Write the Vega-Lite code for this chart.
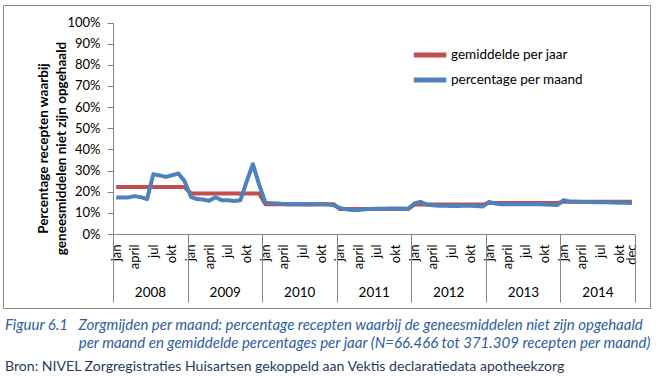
{
  "$schema": "https://vega.github.io/schema/vega-lite/v6.json",
  "width": 647,
  "height": 303,
  "padding": {"left": 3, "top": 5, "right": 0, "bottom": 0},
  "autosize": {"type": "pad"},
  "background": "white",
  "config": {
    "font": "Lato",
    "view": {"stroke": "#888888", "strokeWidth": 1},
    "axis": {"grid": false, "labelFont": "Lato", "labelFontSize": 13, "labelColor": "black", "domainColor": "#868686", "tickColor": "#868686", "labelOverlap": false, "labelFlush": false}
  },
  "title": {
    "text": [
      "Figuur 6.1\u00a0\u00a0\u00a0Zorgmijden per maand: percentage recepten waarbij de geneesmiddelen niet zijn opgehaald",
      "\u200b\u00a0\u00a0\u00a0\u00a0\u00a0\u00a0\u00a0\u00a0\u00a0\u00a0\u00a0\u00a0\u00a0\u00a0\u00a0\u00a0\u00a0\u00a0\u00a0\u00a0\u00a0per maand en gemiddelde percentages per jaar (N=66.466 tot 371.309 recepten per maand)"
    ],
    "subtitle": "Bron: NIVEL Zorgregistraties Huisartsen gekoppeld aan Vektis declaratiedata apotheekzorg",
    "orient": "bottom",
    "anchor": "start",
    "frame": "group",
    "offset": 10,
    "dx": 2,
    "font": "Lato",
    "fontSize": 15,
    "fontStyle": "italic",
    "fontWeight": "normal",
    "color": "#2F5D9F",
    "lineHeight": 17.5,
    "subtitleFont": "Lato",
    "subtitleFontSize": 14.1,
    "subtitleFontStyle": "normal",
    "subtitleColor": "#1F3D5C",
    "subtitlePadding": 9
  },
  "data": {
    "values": [
      {"maand": "2008-01", "gemiddelde per jaar": 22.2, "percentage per maand": 17.3},
      {"maand": "2008-02", "gemiddelde per jaar": 22.2, "percentage per maand": 17.2},
      {"maand": "2008-03", "gemiddelde per jaar": 22.2, "percentage per maand": 17.3},
      {"maand": "2008-04", "gemiddelde per jaar": 22.2, "percentage per maand": 17.9},
      {"maand": "2008-05", "gemiddelde per jaar": 22.2, "percentage per maand": 17.4},
      {"maand": "2008-06", "gemiddelde per jaar": 22.2, "percentage per maand": 16.5},
      {"maand": "2008-07", "gemiddelde per jaar": 22.2, "percentage per maand": 28.3},
      {"maand": "2008-08", "gemiddelde per jaar": 22.2, "percentage per maand": 27.7},
      {"maand": "2008-09", "gemiddelde per jaar": 22.2, "percentage per maand": 27.0},
      {"maand": "2008-10", "gemiddelde per jaar": 22.2, "percentage per maand": 27.8},
      {"maand": "2008-11", "gemiddelde per jaar": 22.2, "percentage per maand": 28.6},
      {"maand": "2008-12", "gemiddelde per jaar": 22.2, "percentage per maand": 25.0},
      {"maand": "2009-01", "gemiddelde per jaar": 19.2, "percentage per maand": 17.6},
      {"maand": "2009-02", "gemiddelde per jaar": 19.2, "percentage per maand": 16.5},
      {"maand": "2009-03", "gemiddelde per jaar": 19.2, "percentage per maand": 16.3},
      {"maand": "2009-04", "gemiddelde per jaar": 19.2, "percentage per maand": 15.7},
      {"maand": "2009-05", "gemiddelde per jaar": 19.2, "percentage per maand": 17.4},
      {"maand": "2009-06", "gemiddelde per jaar": 19.2, "percentage per maand": 16.0},
      {"maand": "2009-07", "gemiddelde per jaar": 19.2, "percentage per maand": 16.0},
      {"maand": "2009-08", "gemiddelde per jaar": 19.2, "percentage per maand": 15.6},
      {"maand": "2009-09", "gemiddelde per jaar": 19.2, "percentage per maand": 16.0},
      {"maand": "2009-10", "gemiddelde per jaar": 19.2, "percentage per maand": 24.8},
      {"maand": "2009-11", "gemiddelde per jaar": 19.2, "percentage per maand": 33.0},
      {"maand": "2009-12", "gemiddelde per jaar": 19.2, "percentage per maand": 23.5},
      {"maand": "2010-01", "gemiddelde per jaar": 14.1, "percentage per maand": 14.8},
      {"maand": "2010-02", "gemiddelde per jaar": 14.1, "percentage per maand": 14.6},
      {"maand": "2010-03", "gemiddelde per jaar": 14.1, "percentage per maand": 14.4},
      {"maand": "2010-04", "gemiddelde per jaar": 14.1, "percentage per maand": 14.2},
      {"maand": "2010-05", "gemiddelde per jaar": 14.1, "percentage per maand": 14.0},
      {"maand": "2010-06", "gemiddelde per jaar": 14.1, "percentage per maand": 14.2},
      {"maand": "2010-07", "gemiddelde per jaar": 14.1, "percentage per maand": 14.0},
      {"maand": "2010-08", "gemiddelde per jaar": 14.1, "percentage per maand": 14.1},
      {"maand": "2010-09", "gemiddelde per jaar": 14.1, "percentage per maand": 14.0},
      {"maand": "2010-10", "gemiddelde per jaar": 14.1, "percentage per maand": 14.2},
      {"maand": "2010-11", "gemiddelde per jaar": 14.1, "percentage per maand": 14.0},
      {"maand": "2010-12", "gemiddelde per jaar": 14.1, "percentage per maand": 13.6},
      {"maand": "2011-01", "gemiddelde per jaar": 11.8, "percentage per maand": 12.3},
      {"maand": "2011-02", "gemiddelde per jaar": 11.8, "percentage per maand": 11.7},
      {"maand": "2011-03", "gemiddelde per jaar": 11.8, "percentage per maand": 11.4},
      {"maand": "2011-04", "gemiddelde per jaar": 11.8, "percentage per maand": 11.4},
      {"maand": "2011-05", "gemiddelde per jaar": 11.8, "percentage per maand": 11.7},
      {"maand": "2011-06", "gemiddelde per jaar": 11.8, "percentage per maand": 11.8},
      {"maand": "2011-07", "gemiddelde per jaar": 11.8, "percentage per maand": 11.9},
      {"maand": "2011-08", "gemiddelde per jaar": 11.8, "percentage per maand": 11.9},
      {"maand": "2011-09", "gemiddelde per jaar": 11.8, "percentage per maand": 12.0},
      {"maand": "2011-10", "gemiddelde per jaar": 11.8, "percentage per maand": 12.0},
      {"maand": "2011-11", "gemiddelde per jaar": 11.8, "percentage per maand": 12.0},
      {"maand": "2011-12", "gemiddelde per jaar": 11.8, "percentage per maand": 11.9},
      {"maand": "2012-01", "gemiddelde per jaar": 13.9, "percentage per maand": 14.4},
      {"maand": "2012-02", "gemiddelde per jaar": 13.9, "percentage per maand": 15.2},
      {"maand": "2012-03", "gemiddelde per jaar": 13.9, "percentage per maand": 13.9},
      {"maand": "2012-04", "gemiddelde per jaar": 13.9, "percentage per maand": 13.6},
      {"maand": "2012-05", "gemiddelde per jaar": 13.9, "percentage per maand": 13.4},
      {"maand": "2012-06", "gemiddelde per jaar": 13.9, "percentage per maand": 13.3},
      {"maand": "2012-07", "gemiddelde per jaar": 13.9, "percentage per maand": 13.2},
      {"maand": "2012-08", "gemiddelde per jaar": 13.9, "percentage per maand": 13.2},
      {"maand": "2012-09", "gemiddelde per jaar": 13.9, "percentage per maand": 13.3},
      {"maand": "2012-10", "gemiddelde per jaar": 13.9, "percentage per maand": 13.3},
      {"maand": "2012-11", "gemiddelde per jaar": 13.9, "percentage per maand": 13.2},
      {"maand": "2012-12", "gemiddelde per jaar": 13.9, "percentage per maand": 13.0},
      {"maand": "2013-01", "gemiddelde per jaar": 14.7, "percentage per maand": 15.2},
      {"maand": "2013-02", "gemiddelde per jaar": 14.7, "percentage per maand": 14.4},
      {"maand": "2013-03", "gemiddelde per jaar": 14.7, "percentage per maand": 14.1},
      {"maand": "2013-04", "gemiddelde per jaar": 14.7, "percentage per maand": 14.1},
      {"maand": "2013-05", "gemiddelde per jaar": 14.7, "percentage per maand": 14.1},
      {"maand": "2013-06", "gemiddelde per jaar": 14.7, "percentage per maand": 14.1},
      {"maand": "2013-07", "gemiddelde per jaar": 14.7, "percentage per maand": 14.1},
      {"maand": "2013-08", "gemiddelde per jaar": 14.7, "percentage per maand": 14.1},
      {"maand": "2013-09", "gemiddelde per jaar": 14.7, "percentage per maand": 14.1},
      {"maand": "2013-10", "gemiddelde per jaar": 14.7, "percentage per maand": 14.0},
      {"maand": "2013-11", "gemiddelde per jaar": 14.7, "percentage per maand": 13.8},
      {"maand": "2013-12", "gemiddelde per jaar": 14.7, "percentage per maand": 13.7},
      {"maand": "2014-01", "gemiddelde per jaar": 15.2, "percentage per maand": 16.0},
      {"maand": "2014-02", "gemiddelde per jaar": 15.2, "percentage per maand": 15.3},
      {"maand": "2014-03", "gemiddelde per jaar": 15.2, "percentage per maand": 15.2},
      {"maand": "2014-04", "gemiddelde per jaar": 15.2, "percentage per maand": 15.1},
      {"maand": "2014-05", "gemiddelde per jaar": 15.2, "percentage per maand": 15.1},
      {"maand": "2014-06", "gemiddelde per jaar": 15.2, "percentage per maand": 15.0},
      {"maand": "2014-07", "gemiddelde per jaar": 15.2, "percentage per maand": 15.0},
      {"maand": "2014-08", "gemiddelde per jaar": 15.2, "percentage per maand": 15.0},
      {"maand": "2014-09", "gemiddelde per jaar": 15.2, "percentage per maand": 14.9},
      {"maand": "2014-10", "gemiddelde per jaar": 15.2, "percentage per maand": 14.8},
      {"maand": "2014-11", "gemiddelde per jaar": 15.2, "percentage per maand": 14.8},
      {"maand": "2014-12", "gemiddelde per jaar": 15.2, "percentage per maand": 14.7}
    ]
  },
  "transform": [
    {"fold": ["gemiddelde per jaar", "percentage per maand"], "as": ["reeks", "waarde"]}
  ],
  "encoding": {
    "y": {
      "field": "waarde",
      "type": "quantitative",
      "scale": {"domain": [0, 100], "range": [229, 17.5], "nice": false},
      "axis": {
        "orient": "left",
        "offset": -110,
        "values": [0, 10, 20, 30, 40, 50, 60, 70, 80, 90, 100],
        "labelExpr": "datum.value + '%'",
        "tickSize": 6,
        "labelPadding": 7,
        "title": ["Percentage recepten waarbij", "geneesmiddelen niet zijn opgehaald"],
        "titleFont": "Lato",
        "titleFontSize": 13.5,
        "titleFontWeight": "bold",
        "titleColor": "black",
        "titleLineHeight": 18,
        "titleAngle": -90,
        "titleAlign": "center",
        "titleBaseline": "middle",
        "titleX": -70,
        "titleY": 143
      }
    },
    "color": {
      "field": "reeks",
      "type": "nominal",
      "scale": {"domain": ["gemiddelde per jaar", "percentage per maand"], "range": ["#C0504D", "#4F81BD"]},
      "legend": {
        "title": null,
        "orient": "none",
        "legendX": 412,
        "legendY": 35,
        "symbolType": "M-1.3,0H1.3",
        "symbolSize": 625,
        "symbolStrokeWidth": 5,
        "rowPadding": 0,
        "padding": 0,
        "labelFont": "Lato",
        "labelFontSize": 13.5,
        "labelColor": "black",
        "labelOffset": 6
      }
    }
  },
  "layer": [
    {
      "transform": [{"filter": "datum.reeks == 'gemiddelde per jaar'"}],
      "mark": {"type": "line", "strokeWidth": 4, "strokeJoin": "round"},
      "encoding": {
        "x": {
          "field": "maand",
          "type": "temporal",
          "timeUnit": "utcyearmonth",
          "bandPosition": 0.5,
          "scale": {
            "type": "utc",
            "domain": [{"year": 2008, "month": 1, "date": 1, "utc": true}, {"year": 2015, "month": 1, "date": 1, "utc": true}],
            "range": [110, 632],
            "nice": false
          },
          "axis": {
            "orient": "bottom",
            "offset": -74,
            "title": null,
            "domain": false,
            "ticks": false,
            "labelAngle": -90,
            "labelPadding": 10,
            "values": [
              {"year": 2008, "month": 1, "date": 16, "utc": true}, {"year": 2008, "month": 4, "date": 16, "utc": true}, {"year": 2008, "month": 7, "date": 16, "utc": true}, {"year": 2008, "month": 10, "date": 16, "utc": true},
              {"year": 2009, "month": 1, "date": 16, "utc": true}, {"year": 2009, "month": 4, "date": 16, "utc": true}, {"year": 2009, "month": 7, "date": 16, "utc": true}, {"year": 2009, "month": 10, "date": 16, "utc": true},
              {"year": 2010, "month": 1, "date": 16, "utc": true}, {"year": 2010, "month": 4, "date": 16, "utc": true}, {"year": 2010, "month": 7, "date": 16, "utc": true}, {"year": 2010, "month": 10, "date": 16, "utc": true},
              {"year": 2011, "month": 1, "date": 16, "utc": true}, {"year": 2011, "month": 4, "date": 16, "utc": true}, {"year": 2011, "month": 7, "date": 16, "utc": true}, {"year": 2011, "month": 10, "date": 16, "utc": true},
              {"year": 2012, "month": 1, "date": 16, "utc": true}, {"year": 2012, "month": 4, "date": 16, "utc": true}, {"year": 2012, "month": 7, "date": 16, "utc": true}, {"year": 2012, "month": 10, "date": 16, "utc": true},
              {"year": 2013, "month": 1, "date": 16, "utc": true}, {"year": 2013, "month": 4, "date": 16, "utc": true}, {"year": 2013, "month": 7, "date": 16, "utc": true}, {"year": 2013, "month": 10, "date": 16, "utc": true},
              {"year": 2014, "month": 1, "date": 16, "utc": true}, {"year": 2014, "month": 4, "date": 16, "utc": true}, {"year": 2014, "month": 7, "date": 16, "utc": true}, {"year": 2014, "month": 10, "date": 16, "utc": true},
              {"year": 2014, "month": 12, "date": 16, "utc": true}
            ],
            "labelExpr": "utcmonth(datum.value) == 0 ? 'jan' : utcmonth(datum.value) == 3 ? 'april' : utcmonth(datum.value) == 6 ? 'jul' : utcmonth(datum.value) == 9 ? 'okt' : 'dec'"
          }
        }
      }
    },
    {
      "transform": [{"filter": "datum.reeks == 'percentage per maand'"}],
      "mark": {"type": "line", "strokeWidth": 4, "strokeJoin": "round"},
      "encoding": {
        "x": {
          "field": "maand",
          "type": "temporal",
          "timeUnit": "utcyearmonth",
          "bandPosition": 0.5,
          "axis": {
            "orient": "bottom",
            "offset": -74,
            "title": null,
            "domain": true,
            "ticks": true,
            "tickSize": 68,
            "labelAngle": 0,
            "labelAlign": "center",
            "labelBaseline": "top",
            "labelOffset": 37,
            "labelPadding": -17,
            "labelFontSize": 13.5,
            "values": [
              {"year": 2008, "month": 1, "date": 1, "utc": true}, {"year": 2009, "month": 1, "date": 1, "utc": true},
              {"year": 2010, "month": 1, "date": 1, "utc": true}, {"year": 2011, "month": 1, "date": 1, "utc": true},
              {"year": 2012, "month": 1, "date": 1, "utc": true}, {"year": 2013, "month": 1, "date": 1, "utc": true},
              {"year": 2014, "month": 1, "date": 1, "utc": true}, {"year": 2015, "month": 1, "date": 1, "utc": true}
            ],
            "labelExpr": "utcyear(datum.value) < 2015 ? '' + utcyear(datum.value) : ''"
          }
        }
      }
    }
  ],
  "resolve": {"axis": {"x": "independent"}}
}
